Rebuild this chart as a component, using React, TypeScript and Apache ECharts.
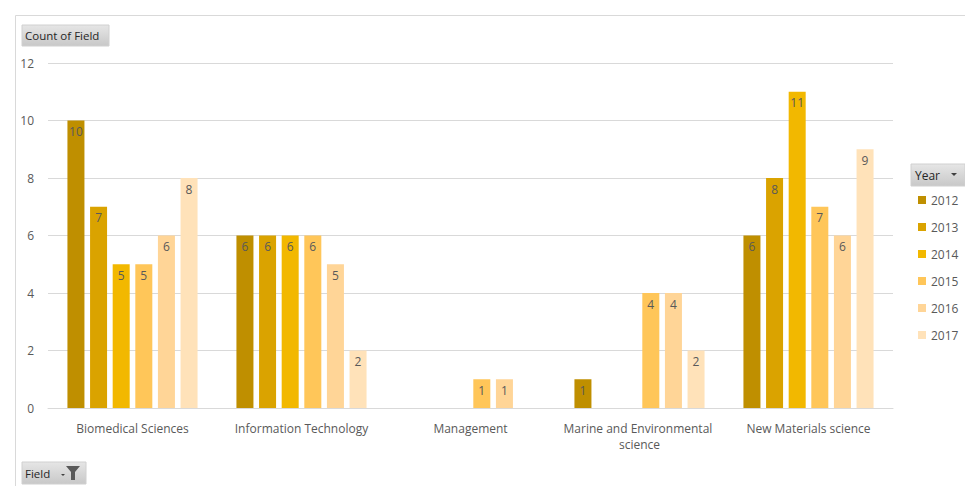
import React, { useEffect, useRef } from "react";
import * as echarts from "echarts";

const categories = [
  "Biomedical Sciences",
  "Information Technology",
  "Management",
  "Marine and Environmental science",
  "New Materials science",
];
const years = ["2012", "2013", "2014", "2015", "2016", "2017"];
const v2012 = [10, 6, null, 1, 6];
const v2013 = [7, 6, null, null, 8];
const v2014 = [5, 6, null, null, 11];
const v2015 = [5, 6, 1, 4, 7];
const v2016 = [6, 5, 1, 4, 6];
const v2017 = [8, 2, null, 2, 9];
const seriesValues = [v2012, v2013, v2014, v2015, v2016, v2017];
const colors = ["#BF8F00", "#DAA300", "#F2B800", "#FFC659", "#FFD597", "#FFE2B9"];
const yTicks = { min: 0, max: 12, interval: 2 };

const FONT = "'Open Sans', 'Noto Sans', sans-serif";
const TXT = "#595959";

const btnFill = new echarts.graphic.LinearGradient(0, 0, 0, 1, [
  { offset: 0, color: "#E6E6E6" },
  { offset: 1, color: "#C8C8C8" },
]);

export default function App() {
  const ref = useRef<HTMLDivElement>(null);
  useEffect(() => {
    if (!ref.current) return;
    const chart = echarts.init(ref.current, undefined, { renderer: "svg" });
    chart.setOption({
      animation: false,
      backgroundColor: "#FFFFFF",
      textStyle: { fontFamily: FONT },
      grid: { left: 48, right: 72, top: 63, bottom: 78, containLabel: false },
      legend: {
        orient: "vertical",
        left: 913,
        top: 189,
        itemWidth: 8,
        itemHeight: 8,
        itemGap: 15,
        icon: "rect",
        data: years,
        textStyle: { color: TXT, fontSize: 12, fontFamily: FONT },
        selectedMode: false,
      },
      xAxis: {
        type: "category",
        data: categories,
        axisTick: { show: false },
        axisLine: { lineStyle: { color: "#D9D9D9", width: 1 } },
        axisLabel: {
          color: TXT,
          fontSize: 12,
          fontFamily: FONT,
          margin: 12,
          interval: 0,
          width: 160,
          overflow: "break",
          lineHeight: 16,
        },
      },
      yAxis: {
        type: "value",
        min: yTicks.min,
        max: yTicks.max,
        interval: yTicks.interval,
        axisLine: { show: false },
        axisTick: { show: false },
        splitLine: { lineStyle: { color: "#D9D9D9", width: 1 } },
        axisLabel: { color: TXT, fontSize: 12, fontFamily: FONT, margin: 14 },
      },
      series: years.map((y, i) => ({
        name: y,
        type: "bar",
        data: seriesValues[i],
        barGap: "33%",
        barCategoryGap: "23%",
        itemStyle: { color: colors[i] },
        label: {
          show: true,
          position: "insideTop",
          distance: 5,
          color: TXT,
          fontSize: 12,
          fontFamily: FONT,
        },
      })),
      graphic: [
        {
          type: "rect",
          shape: { x: 15.5, y: 15.5, width: 1000, height: 1000 },
          style: { fill: "none", stroke: "#D9D9D9", lineWidth: 1 },
          silent: true,
        },
        {
          type: "rect",
          shape: { x: 22, y: 25, width: 87, height: 21 },
          style: { fill: btnFill, stroke: "#D0D0D0" },
        },
        {
          type: "text",
          x: 25,
          y: 35.5,
          style: { text: "Count of Field", fontSize: 11.5, fontFamily: FONT, fill: "#262626", verticalAlign: "middle" },
        },
        {
          type: "rect",
          shape: { x: 911, y: 164, width: 54, height: 22 },
          style: { fill: btnFill, stroke: "#D0D0D0" },
        },
        {
          type: "text",
          x: 915,
          y: 175,
          style: { text: "Year", fontSize: 12, fontFamily: FONT, fill: "#262626", verticalAlign: "middle" },
        },
        {
          type: "polygon",
          shape: { points: [[951, 173], [957, 173], [954, 176]] },
          style: { fill: "#404040" },
        },
        {
          type: "rect",
          shape: { x: 22, y: 462, width: 64, height: 22 },
          style: { fill: btnFill, stroke: "#D0D0D0" },
        },
        {
          type: "text",
          x: 25,
          y: 473,
          style: { text: "Field", fontSize: 11.5, fontFamily: FONT, fill: "#262626", verticalAlign: "middle" },
        },
        {
          type: "polygon",
          shape: { points: [[61, 474], [65, 474], [63, 476]] },
          style: { fill: "#404040" },
        },
        {
          type: "polygon",
          shape: {
            points: [[66, 466], [80, 466], [75, 472], [75, 480], [71, 480], [71, 472]],
          },
          style: { fill: "#595959" },
        },
      ],
    });
    return () => chart.dispose();
  }, []);
  return (
    <div
      ref={ref}
      style={{ position: "fixed", left: 0, top: 0, width: 965, height: 486 }}
    />
  );
}
